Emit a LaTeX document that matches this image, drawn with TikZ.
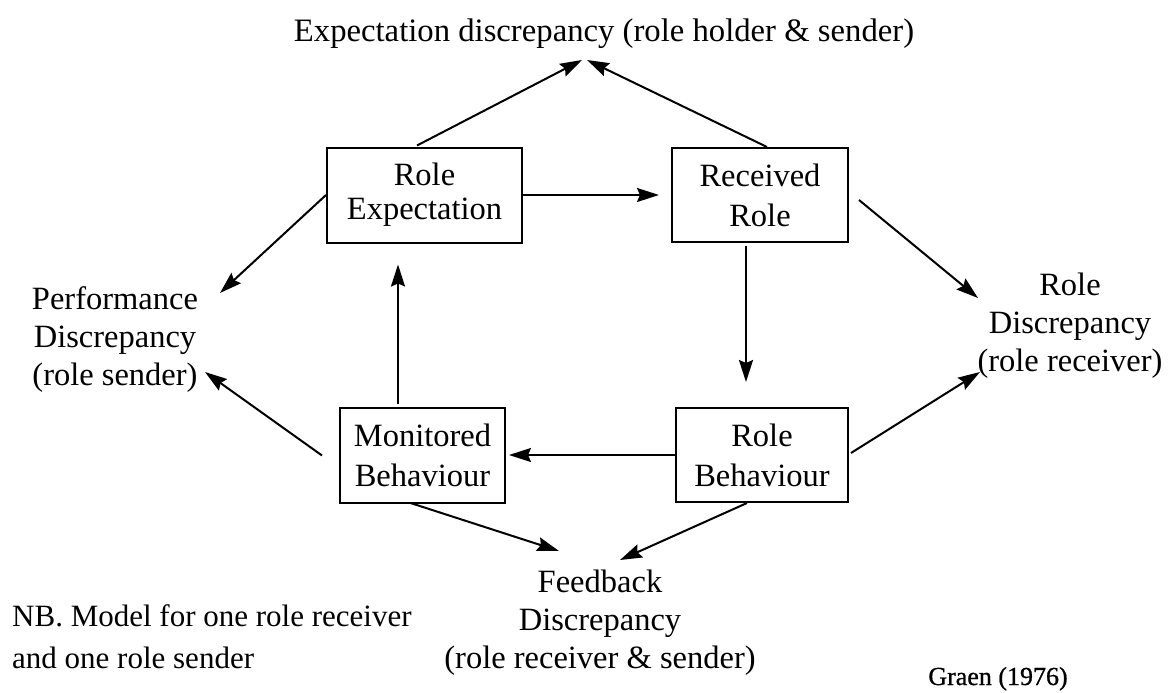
\documentclass[tikz,border=0pt]{standalone}
\usepackage{fontspec}
\setmainfont{Liberation Serif}
\newfontfamily\creditfont[FakeBold=0.8]{Liberation Serif}
\usetikzlibrary{arrows.meta,calc}
\begin{document}
\begin{tikzpicture}[x=1pt,y=-1pt,
  box/.style={draw, line width=2pt, inner sep=0pt, align=center,
              font=\fontsize{32.5}{40}\selectfont},
  lbl/.style={inner sep=0pt, align=center, font=\fontsize{32.5}{38}\selectfont},
  arr/.style={line width=2pt, -{Stealth[length=22pt,width=14pt,inset=3pt]}}]

% page frame
\fill[white] (0,0) rectangle (1171,693);
\useasboundingbox (0,0) rectangle (1171,693);

% the four role boxes
\node[box, minimum width=195pt, minimum height=95pt,
      font=\fontsize{32.5}{34}\selectfont] (RE) at (424.5,195) {Role\\Expectation};
\node[box, minimum width=176pt, minimum height=94pt] (RR) at (760,195) {Received\\Role};
\node[box, minimum width=165pt, minimum height=95pt] (MB) at (422.5,455.5) {Monitored\\Behaviour};
\node[box, minimum width=172pt, minimum height=94pt] (RB) at (762,455) {Role\\Behaviour};

% discrepancy labels
\node[lbl, anchor=base, font=\fontsize{32.7}{38}\selectfont] (ED) at (604,42)
  {Expectation discrepancy (role holder \& sender)};
\node[lbl, anchor=north] (PD) at (115,286) {Performance\\Discrepancy\\(role sender)};
\node[lbl, anchor=north] (RD) at (1070,273) {Role\\Discrepancy\\(role receiver)};
\node[lbl, anchor=north] (FD) at (600,570) {Feedback\\Discrepancy\\(role receiver \& sender)};

% notes
\node[lbl, anchor=north west, align=left, font=\fontsize{31}{42}\selectfont] (NB) at (12,604)
  {NB. Model for one role receiver\\and one role sender};
\node[inner sep=0pt, anchor=base, font=\creditfont\fontsize{26}{30}\selectfont] (SRC) at (998,685)
  {Graen (1976)};

% arrow end points at the labels
\coordinate (tEl) at (582,60);
\coordinate (tEr) at (587,60);
\coordinate (tPa) at (220,293);
\coordinate (tPb) at (205,372);
\coordinate (tRa) at (978,298);
\coordinate (tRb) at (980,372);
\coordinate (tFa) at (559,551);
\coordinate (tFb) at (620,560);

% cycle between the boxes
\draw[arr] (RE.east) -- ($(RE.east -| RR.west)+(-12,0)$);
\draw[arr] ($(RR.south)+(-14,3)$) -- ($(RB.north)+(-16,-25)$);
\draw[arr] (RB.west) -- ($(RB.west -| MB.east)+(3,0)$);
\draw[arr] ($(MB.north)+(-24.5,-3)$) -- ($(RE.south)+(-26.5,21)$);

% arrows to the discrepancies
\draw[arr] ($(RE.north)+(-7.5,-1)$) -- (tEl);
\draw[arr] ($(RR.north)+(7,0)$) -- (tEr);
\draw[arr] (RE.west) -- (tPa);
\draw[arr] ($(MB.west)+(-17,0)$) -- (tPb);
\draw[arr] ($(RR.east)+(10,5)$) -- (tRa);
\draw[arr] ($(RB.east)+(2,-2)$) -- (tRb);
\draw[arr] ($(MB.south)+(-12,-1)$) -- (tFa);
\draw[arr] ($(RB.south)+(-15,0)$) -- (tFb);
\end{tikzpicture}
\end{document}
